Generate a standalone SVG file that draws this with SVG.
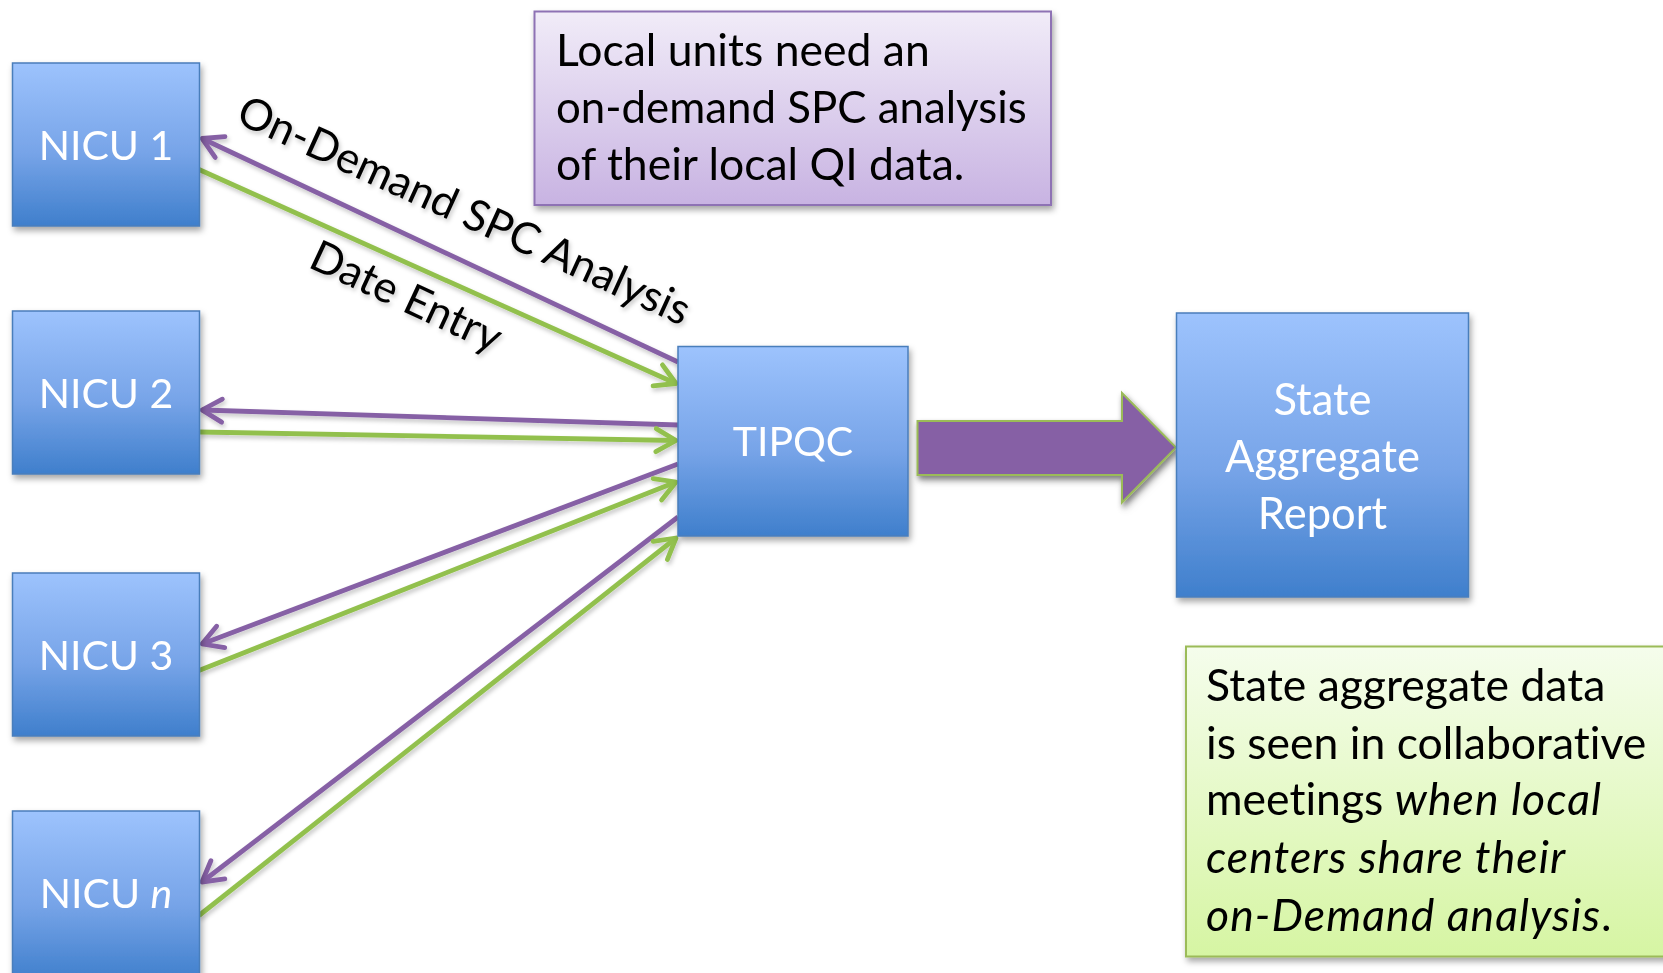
<svg xmlns="http://www.w3.org/2000/svg" width="1663" height="973" viewBox="0 0 1663 973">
<style>
text{font-variant-ligatures:none;font-feature-settings:"liga" 0,"clig" 0}
.box{fill:url(#gBlue);stroke:#4A7EBB;stroke-width:1.5;filter:url(#sh)}
.lbl{font-family:Lato,"Open Sans","Liberation Sans",sans-serif;font-size:41px;fill:#fff;text-anchor:middle}
.big{font-size:43.5px}
.txt{font-family:Lato,"Open Sans","Liberation Sans",sans-serif;font-size:44.5px;fill:#000}
.rot{font-size:43.5px}
.it{font-style:italic;letter-spacing:1.05px}
.pl{stroke:#8661A5;stroke-width:4.8;fill:none;marker-end:url(#ap)}
.gl{stroke:#92C04E;stroke-width:4.8;fill:none;marker-end:url(#ag)}
</style>
<defs>
<linearGradient id="gBlue" x1="0" y1="0" x2="0" y2="1">
<stop offset="0" stop-color="#9DC3FD"/>
<stop offset="0.55" stop-color="#77A4E8"/>
<stop offset="1" stop-color="#3F7FCC"/>
</linearGradient>
<linearGradient id="gPurple" x1="0" y1="0" x2="0" y2="1">
<stop offset="0" stop-color="#F1ECF8"/>
<stop offset="1" stop-color="#C8B3E2"/>
</linearGradient>
<linearGradient id="gGreen" x1="0" y1="0" x2="0" y2="1">
<stop offset="0" stop-color="#F5FDEC"/>
<stop offset="1" stop-color="#D6F5A3"/>
</linearGradient>
<filter id="sh" x="-10%" y="-10%" width="130%" height="130%">
<feDropShadow dx="2" dy="4" stdDeviation="3" flood-color="#000" flood-opacity="0.35"/>
</filter>
<filter id="lsh" x="-10%" y="-10%" width="120%" height="120%">
<feDropShadow dx="1.5" dy="3" stdDeviation="2" flood-color="#000" flood-opacity="0.22"/>
</filter>
<marker id="ap" viewBox="-26 -15 32 30" refX="0" refY="0" markerWidth="32" markerHeight="30" markerUnits="userSpaceOnUse" orient="auto">
<path d="M-20,-11.5 L0,0 L-20,11.5" fill="none" stroke="#8661A5" stroke-width="4.8" stroke-linecap="round" stroke-linejoin="round"/>
</marker>
<marker id="ag" viewBox="-26 -15 32 30" refX="0" refY="0" markerWidth="32" markerHeight="30" markerUnits="userSpaceOnUse" orient="auto">
<path d="M-20,-11.5 L0,0 L-20,11.5" fill="none" stroke="#92C04E" stroke-width="4.8" stroke-linecap="round" stroke-linejoin="round"/>
</marker>
</defs>
<rect width="1663" height="973" fill="#fff"/>

<g id="connectors" filter="url(#lsh)">
<line class="pl" x1="678" y1="362" x2="202" y2="138.5"/>
<line class="gl" x1="199" y1="169.5" x2="676" y2="383.5"/>
<line class="pl" x1="678" y1="425" x2="202" y2="410"/>
<line class="gl" x1="199" y1="432" x2="676" y2="440.5"/>
<line class="pl" x1="678" y1="464" x2="202" y2="644"/>
<line class="gl" x1="199" y1="670.5" x2="676" y2="482"/>
<line class="pl" x1="678" y1="517" x2="202" y2="882"/>
<line class="gl" x1="199" y1="915.5" x2="676" y2="538"/>
<text class="txt rot" transform="translate(458,224) rotate(24.5)" text-anchor="middle">On-Demand SPC Analysis</text>
<text class="txt rot" transform="translate(400,310) rotate(25)" text-anchor="middle">Date Entry</text>
<polygon points="917.5,421 1122,421 1122,393 1176,447.5 1122,502.5 1122,475 917.5,475" fill="#8661A5" stroke="#9BBB59" stroke-width="2" filter="url(#sh)"/>
</g>

<g id="nicu1">
<rect class="box" x="12.5" y="63" width="187" height="163"/>
<text class="lbl" x="106" y="160">NICU 1</text>
</g>
<g id="nicu2">
<rect class="box" x="12.5" y="311" width="187" height="163"/>
<text class="lbl" x="106" y="408">NICU 2</text>
</g>
<g id="nicu3">
<rect class="box" x="12.5" y="573" width="187" height="163"/>
<text class="lbl" x="106" y="670">NICU 3</text>
</g>
<g id="nicun">
<rect class="box" x="12.5" y="811" width="187" height="170"/>
<text class="lbl" x="106" y="908">NICU <tspan font-style="italic">n</tspan></text>
</g>
<g id="tipqc">
<rect class="box" x="678" y="346.5" width="230" height="189.5"/>
<text class="lbl" x="793" y="456">TIPQC</text>
</g>
<g id="state">
<rect class="box" x="1176.5" y="313" width="292" height="284"/>
<text class="lbl big" x="1322.5" y="415">State</text>
<text class="lbl big" x="1322.5" y="472">Aggregate</text>
<text class="lbl big" x="1322.5" y="529">Report</text>
</g>
<g id="note-local">
<rect x="534.5" y="11.5" width="516.5" height="193.5" fill="url(#gPurple)" stroke="#8E72B4" stroke-width="2" filter="url(#sh)"/>
<text class="txt" x="556" y="66">Local units need an</text>
<text class="txt" x="556" y="123" style="font-size:43.8px">on-demand SPC analysis</text>
<text class="txt" x="556" y="180">of their local QI data.</text>
</g>
<g id="note-state">
<rect x="1186" y="646.5" width="490" height="310" fill="url(#gGreen)" stroke="#9BBB59" stroke-width="2" filter="url(#sh)"/>
<text class="txt" x="1206" y="701">State aggregate data</text>
<text class="txt" x="1206" y="759">is seen in collaborative</text>
<text class="txt" x="1206" y="815">meetings <tspan class="it">when local</tspan></text>
<text class="txt" x="1206" y="873"><tspan class="it">centers share their</tspan></text>
<text class="txt" x="1206" y="931"><tspan class="it">on-Demand analysis</tspan>.</text>
</g>
</svg>
